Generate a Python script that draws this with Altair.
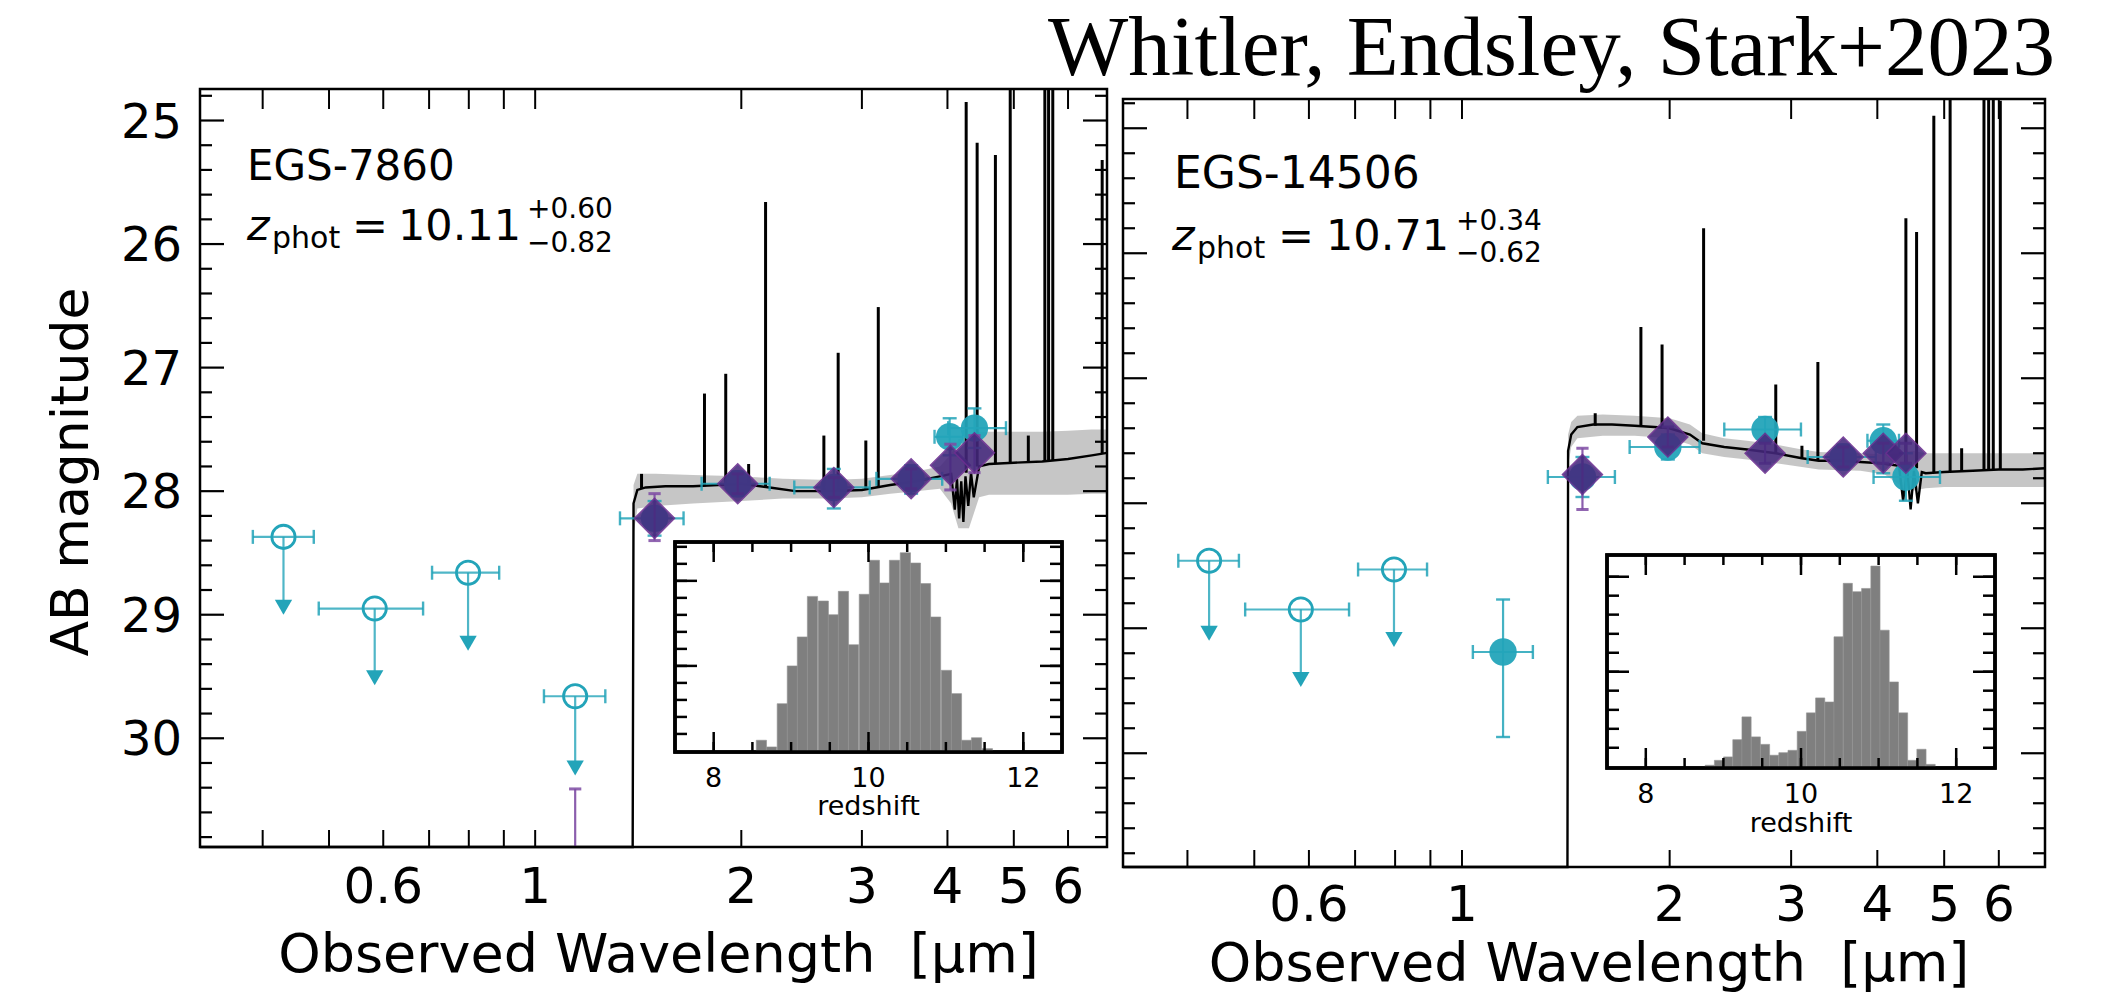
import altair as alt
import pandas as pd

FONT = "DejaVu Sans"
SERIF = "Liberation Serif"
CYAN = "#23a4b9"
PURPLE = "#45287d"
PURPLE_EDGE = "#6b2e90"
PURPLE_BAR = "#7e4ca4"
BAND = "#c0c0c0"
HIST = "#7f7f7f"
W, H = 2111, 994

TITLE = "Whitler, Endsley, Stark+2023"
X_TITLE = "Observed Wavelength\u00a0\u00a0[\u03bcm]"
Y_TITLE = "AB magnitude"

# axis tick values / labels
X_TICKS = [0.4, 0.5, 0.6, 0.7, 0.8, 0.9, 1, 2, 3, 4, 5, 6]
X_LABEL_VALUES = [0.6, 1, 2, 3, 4, 5, 6]
X_LABELS = ["0.6", "1", "2", "3", "4", "5", "6"]
Y_MAJOR = [25, 26, 27, 28, 29, 30]
Y_LABELS = ["25", "26", "27", "28", "29", "30"]
Y_MINOR = [round(24.8 + 0.2 * k, 1) for k in range(31) if round(24.8 + 0.2 * k, 1) % 1 != 0]
Z_TICKS = [8, 8.5, 9, 9.5, 10, 10.5, 11, 11.5, 12]
Z_MAJOR = [8, 10, 12]
Z_LABELS = ["8", "10", "12"]

# ---------------- EGS-7860 (left) ----------------
L_ul_lam = [0.429, 0.583, 0.798, 1.144]
L_ul_mag = [28.37, 28.95, 28.66, 29.66]
L_ul_lo = [0.387, 0.483, 0.707, 1.03]
L_ul_hi = [0.475, 0.686, 0.886, 1.266]
L_ul_arrow = [28.94, 29.51, 29.23, 30.24]

L_det_lam = [1.494, 1.976, 2.73, 3.54, 4.03, 4.38]
L_det_mag = [28.22, 27.94, 27.97, 27.90, 27.56, 27.49]
L_det_lo = [1.33, 1.75, 2.39, 3.15, 3.83, 4.01]
L_det_hi = [1.647, 2.20, 3.08, 3.93, 4.22, 4.87]
L_det_ylo = [28.08, 27.84, 27.82, 27.79, 27.41, 27.33]
L_det_yhi = [28.36, 28.04, 28.14, 28.02, 27.71, 27.65]

L_dia_lam = [1.494, 1.976, 2.73, 3.54, 4.04, 4.38]
L_dia_mag = [28.22, 27.94, 27.97, 27.90, 27.79, 27.69]
L_dia_ylo = [28.02, 27.86, 27.89, 27.82, 27.62, 27.55]
L_dia_yhi = [28.40, 28.02, 28.05, 27.98, 27.99, 27.85]

L_pbar_lam = [1.144]
L_pbar_top = [30.41]
L_pbar_bot = [31.5]

L_spec_lam = [0.324, 1.388, 1.392, 1.41, 1.45, 1.55, 1.7, 1.85, 2.0, 2.2, 2.4, 2.7, 3.0, 3.3, 3.6, 3.9,
              4.05, 4.1, 4.13, 4.16, 4.19, 4.22, 4.25, 4.29, 4.33, 4.37, 4.45, 4.6, 5.0, 5.5, 6.0, 6.5, 6.84]
L_spec_mag = [31.5, 31.5, 28.1, 27.99, 27.97, 27.96, 27.96, 27.95, 27.94, 27.97, 28.0, 28.0, 27.99, 27.95, 27.92, 27.88,
              27.86, 28.15, 27.9, 28.22, 27.92, 28.25, 27.88, 28.12, 27.85, 28.05, 27.8, 27.78, 27.77, 27.76, 27.74, 27.71, 27.69]

L_band_lam = [1.392, 1.41, 1.5, 1.7, 2.0, 2.3, 2.7, 3.0, 3.3, 3.6, 3.9, 4.05, 4.15, 4.3, 4.45, 4.6, 5.0, 5.5, 6.0, 6.5, 6.84]
L_band_lo = [27.95, 27.86, 27.86, 27.87, 27.88, 27.9, 27.91, 27.9, 27.87, 27.84, 27.8, 27.7, 27.58, 27.55, 27.52, 27.52,
             27.52, 27.52, 27.51, 27.5, 27.5]
L_band_hi = [28.35, 28.14, 28.12, 28.1, 28.08, 28.06, 28.06, 28.05, 28.02, 28.0, 27.98, 28.1, 28.3, 28.3, 28.05, 28.03,
             28.03, 28.03, 28.03, 28.02, 28.02]

L_line_lam = [1.43, 1.767, 1.898, 2.05, 2.17, 2.64, 2.77, 3.04, 3.17, 4.26, 4.42, 4.70, 4.94, 5.25, 5.55, 5.62, 5.70, 6.73]
L_line_base = [27.98, 27.96, 27.95, 27.94, 27.97, 28.0, 28.0, 27.99, 27.96, 27.85, 27.8, 27.78, 27.77, 27.77, 27.76,
               27.76, 27.75, 27.70]
L_line_top = [27.86, 27.21, 27.05, 27.78, 25.66, 27.55, 26.88, 27.59, 26.51, 24.85, 25.18, 25.28, 24.5, 27.55, 24.5,
              24.5, 24.5, 25.32]

L_hist_start = [8.55, 8.68, 8.82, 8.95, 9.08, 9.21, 9.35, 9.48, 9.61, 9.74, 9.88, 10.01, 10.14, 10.27, 10.41,
                10.54, 10.67, 10.80, 10.94, 11.07, 11.20, 11.33, 11.47]
L_hist_height = [5.6, 2.4, 23.0, 41.0, 54.8, 74.1, 71.9, 65.4, 76.5, 51.1, 75.1, 91.3, 80.5, 91.3, 94.9,
                 90.0, 80.2, 64.3, 38.9, 27.8, 5.6, 6.8, 1.6]
L_hist_width = 0.1325
L_hist_yticks = [8.6, 16.7, 24.8, 32.9, 41.0, 49.1, 57.2, 65.3, 73.4, 81.5, 89.6, 97.7]
L_hist_ymajor = [41.0, 81.5]

# ---------------- EGS-14506 (right) ----------------
R_ul_lam = [0.430, 0.584, 0.797]
R_ul_mag = [28.46, 28.85, 28.53]
R_ul_lo = [0.388, 0.485, 0.707]
R_ul_hi = [0.475, 0.686, 0.890]
R_ul_arrow = [29.04, 29.41, 29.09]

R_det_lam = [1.147, 1.495, 1.988, 2.75, 3.57, 4.08, 4.40]
R_det_mag = [29.19, 27.79, 27.55, 27.41, 27.63, 27.50, 27.79]
R_det_lo = [1.037, 1.332, 1.75, 2.40, 3.17, 3.87, 3.95]
R_det_hi = [1.267, 1.666, 2.21, 3.10, 3.98, 4.30, 4.93]
R_det_ylo = [28.77, 27.63, 27.45, 27.31, 27.53, 27.37, 27.60]
R_det_yhi = [29.87, 27.95, 27.65, 27.51, 27.73, 27.76, 27.98]

R_dia_lam = [1.495, 1.988, 2.75, 3.57, 4.08, 4.40]
R_dia_mag = [27.77, 27.47, 27.60, 27.63, 27.60, 27.60]
R_dia_ylo = [27.56, 27.39, 27.52, 27.55, 27.52, 27.52]
R_dia_yhi = [28.05, 27.55, 27.68, 27.71, 27.68, 27.68]

R_spec_lam = [0.3226, 1.422, 1.425, 1.44, 1.47, 1.55, 1.65, 1.78, 1.9, 2.0, 2.14, 2.23, 2.4, 2.59, 2.85, 3.11, 3.29,
              3.55, 3.78, 4.05, 4.3, 4.36, 4.42, 4.47, 4.52, 4.58, 4.64, 4.7, 5.0, 5.5, 6.0, 6.5, 7.0]
R_spec_mag = [31.5, 31.5, 27.58, 27.45, 27.39, 27.37, 27.37, 27.38, 27.39, 27.4, 27.45, 27.52, 27.55, 27.57, 27.6,
              27.64, 27.66, 27.66, 27.67, 27.68, 27.7, 27.98, 27.72, 28.05, 27.74, 28.0, 27.75, 27.76, 27.75, 27.74,
              27.73, 27.73, 27.72]

R_band_lam = [1.425, 1.44, 1.47, 1.6, 1.78, 2.0, 2.14, 2.23, 2.4, 2.59, 2.85, 3.11, 3.29, 3.78, 4.1, 4.3, 4.5, 4.7,
              5.0, 5.5, 6.0, 6.5, 7.0]
R_band_lo = [27.45, 27.35, 27.3, 27.29, 27.3, 27.32, 27.37, 27.44, 27.48, 27.5, 27.53, 27.57, 27.59, 27.6, 27.61,
             27.6, 27.58, 27.6, 27.6, 27.6, 27.6, 27.6, 27.6]
R_band_hi = [27.7, 27.55, 27.48, 27.46, 27.46, 27.48, 27.53, 27.6, 27.63, 27.65, 27.68, 27.71, 27.73, 27.74, 27.77,
             27.85, 27.9, 27.88, 27.87, 27.87, 27.87, 27.87, 27.87]

R_line_lam = [1.56, 1.817, 1.95, 2.24, 2.85, 3.11, 3.28, 4.40, 4.56, 4.83, 5.10, 5.30, 5.71, 5.80, 5.89, 6.03]
R_line_base = [27.38, 27.38, 27.4, 27.5, 27.6, 27.64, 27.66, 27.7, 27.72, 27.75, 27.75, 27.74, 27.73, 27.73, 27.73, 27.73]
R_line_top = [27.28, 26.59, 26.73, 25.80, 27.05, 27.54, 26.87, 25.72, 25.83, 24.9, 24.5, 27.56, 24.5, 24.5, 24.5, 24.78]

R_hist_start = [8.765, 8.884, 9.002, 9.121, 9.239, 9.358, 9.477, 9.595, 9.714, 9.832, 9.951, 10.07, 10.188,
                10.307, 10.425, 10.544, 10.663, 10.781, 10.9, 11.018, 11.137, 11.256, 11.374, 11.493, 11.611]
R_hist_height = [1.3, 3.6, 5.2, 13.3, 24.0, 14.6, 11.1, 6.0, 7.2, 8.3, 17.2, 25.9, 32.9, 31.0, 61.6, 86.7, 82.8,
                 84.3, 94.8, 64.7, 40.4, 25.9, 3.6, 8.8, 1.7]
R_hist_width = 0.1186
R_hist_yticks = [9.5, 18.4, 27.3, 36.3, 45.2, 54.1, 63.0, 72.0, 80.9, 89.8]
R_hist_ymajor = [45.2, 89.8]

# ---------------- layout (page pixels) ----------------
LP = dict(x0=200, x1=1107, y0=89, y1=847)
RP = dict(x0=1123, x1=2045, y0=99, y1=867)
LI = dict(x0=675, x1=1062, y0=542, y1=752)
RI = dict(x0=1607, x1=1995, y0=555, y1=768)

XS_L = alt.Scale(type="log", domain=[0.324, 6.84], range=[LP["x0"], LP["x1"]], clamp=True, nice=False)
YS_L = alt.Scale(domain=[24.745, 30.88], range=[LP["y0"], LP["y1"]], clamp=True, nice=False, zero=False)
XS_R = alt.Scale(type="log", domain=[0.3226, 7.0], range=[RP["x0"], RP["x1"]], clamp=True, nice=False)
YS_R = alt.Scale(domain=[24.766, 30.91], range=[RP["y0"], RP["y1"]], clamp=True, nice=False, zero=False)
XS_LI = alt.Scale(domain=[7.5, 12.5], range=[LI["x0"], LI["x1"]], nice=False, zero=False)
YS_LI = alt.Scale(domain=[0, 100], range=[LI["y1"], LI["y0"]], nice=False)
XS_RI = alt.Scale(domain=[7.5, 12.5], range=[RI["x0"], RI["x1"]], nice=False, zero=False)
YS_RI = alt.Scale(domain=[0, 100], range=[RI["y1"], RI["y0"]], nice=False)

VCAP = "M0,-1L0,1"
HCAP = "M-1,0L1,0"
ONE = pd.DataFrame({"k": [0]})


def Xf(scale):
    return lambda f: alt.X(f, type="quantitative", scale=scale, axis=None)


def Yf(scale):
    return lambda f: alt.Y(f, type="quantitative", scale=scale, axis=None)


def caps(df, X, Y, xf, yf, shape, color, size=196, sw=2.4, op=0.85):
    return alt.Chart(df).mark_point(shape=shape, size=size, filled=False, color=color,
                                    strokeWidth=sw, opacity=op).encode(x=X(xf), y=Y(yf))


def main_panel(box, XS, YS, d, ylabels, xlab_base, xtitle_base):
    X, Y = Xf(XS), Yf(YS)
    band = pd.DataFrame({"lam": d["band_lam"], "lo": d["band_lo"], "hi": d["band_hi"]})
    spec = pd.DataFrame({"lam": d["spec_lam"], "mag": d["spec_mag"]})
    lines = pd.DataFrame({"lam": d["line_lam"], "base": d["line_base"], "top": d["line_top"]})
    ul = pd.DataFrame({"lam": d["ul_lam"], "mag": d["ul_mag"], "lo": d["ul_lo"], "hi": d["ul_hi"],
                       "arrow": d["ul_arrow"]})
    det = pd.DataFrame({"lam": d["det_lam"], "mag": d["det_mag"], "lo": d["det_lo"], "hi": d["det_hi"],
                        "ylo": d["det_ylo"], "yhi": d["det_yhi"]})
    dia = pd.DataFrame({"lam": d["dia_lam"], "mag": d["dia_mag"], "ylo": d["dia_ylo"], "yhi": d["dia_yhi"]})

    L = [
        alt.Chart(band).mark_area(color=BAND, opacity=0.9).encode(x=X("lam"), y=Y("lo"), y2=alt.Y2("hi")),
        alt.Chart(spec).mark_line(color="black", strokeWidth=2.4).encode(x=X("lam"), y=Y("mag")),
        alt.Chart(lines).mark_rule(color="black", strokeWidth=3).encode(x=X("lam"), y=Y("base"), y2=alt.Y2("top")),
    ]
    if "pbar_lam" in d:
        pb = pd.DataFrame({"lam": d["pbar_lam"], "top": d["pbar_top"], "bot": d["pbar_bot"]})
        L += [
            alt.Chart(pb).mark_rule(color=PURPLE_BAR, strokeWidth=2.2, opacity=0.9).encode(
                x=X("lam"), y=Y("top"), y2=alt.Y2("bot")),
            caps(pb, X, Y, "lam", "top", HCAP, PURPLE_BAR, size=150, sw=3),
        ]
    # upper limits (open circles with arrows)
    L += [
        alt.Chart(ul).mark_rule(color=CYAN, strokeWidth=2.2, opacity=0.8).encode(
            x=X("lo"), x2=alt.X2("hi"), y=Y("mag")),
        caps(ul, X, Y, "lo", "mag", VCAP, CYAN),
        caps(ul, X, Y, "hi", "mag", VCAP, CYAN),
        alt.Chart(ul).mark_rule(color=CYAN, strokeWidth=2.2, opacity=0.8).encode(
            x=X("lam"), y=Y("mag"), y2=alt.Y2("arrow")),
        alt.Chart(ul).mark_point(shape="triangle-down", size=300, filled=True, color=CYAN, opacity=1).encode(
            x=X("lam"), y=Y("arrow")),
        alt.Chart(ul).mark_point(shape="circle", size=540, filled=False, color=CYAN, strokeWidth=2.8,
                                 opacity=1).encode(x=X("lam"), y=Y("mag")),
    ]
    # detections (filled cyan)
    L += [
        alt.Chart(det).mark_rule(color=CYAN, strokeWidth=2.2, opacity=0.85).encode(
            x=X("lo"), x2=alt.X2("hi"), y=Y("mag")),
        caps(det, X, Y, "lo", "mag", VCAP, CYAN),
        caps(det, X, Y, "hi", "mag", VCAP, CYAN),
        alt.Chart(det).mark_rule(color=CYAN, strokeWidth=2.2, opacity=0.85).encode(
            x=X("lam"), y=Y("ylo"), y2=alt.Y2("yhi")),
        caps(det, X, Y, "lam", "ylo", HCAP, CYAN),
        caps(det, X, Y, "lam", "yhi", HCAP, CYAN),
        alt.Chart(det).mark_point(shape="circle", size=750, filled=True, color=CYAN, opacity=0.95).encode(
            x=X("lam"), y=Y("mag")),
    ]
    # purple diamonds
    L += [
        alt.Chart(dia).mark_rule(color=PURPLE_BAR, strokeWidth=2.2, opacity=0.9).encode(
            x=X("lam"), y=Y("ylo"), y2=alt.Y2("yhi")),
        caps(dia, X, Y, "lam", "ylo", HCAP, PURPLE_BAR, size=150, sw=3),
        caps(dia, X, Y, "lam", "yhi", HCAP, PURPLE_BAR, size=150, sw=3),
        alt.Chart(dia).mark_point(shape="diamond", size=1600, filled=True, fill=PURPLE, stroke=PURPLE_EDGE,
                                  strokeWidth=1.5, opacity=0.88).encode(x=X("lam"), y=Y("mag")),
    ]
    # ticks and frame
    xt = pd.DataFrame({"v": X_TICKS})
    ymaj = pd.DataFrame({"v": Y_MAJOR})
    ymin = pd.DataFrame({"v": Y_MINOR})
    L += [
        alt.Chart(xt).mark_rule(color="black", strokeWidth=2).encode(
            x=X("v"), y=alt.value(box["y1"]), y2=alt.value(box["y1"] - 17)),
        alt.Chart(xt).mark_rule(color="black", strokeWidth=2).encode(
            x=X("v"), y=alt.value(box["y0"]), y2=alt.value(box["y0"] + 20)),
    ]
    for df, ln in ((ymaj, 24), (ymin, 12)):
        L += [
            alt.Chart(df).mark_rule(color="black", strokeWidth=2.2).encode(
                y=Y("v"), x=alt.value(box["x0"]), x2=alt.value(box["x0"] + ln)),
            alt.Chart(df).mark_rule(color="black", strokeWidth=2.2).encode(
                y=Y("v"), x=alt.value(box["x1"]), x2=alt.value(box["x1"] - ln)),
        ]
    L.append(alt.Chart(ONE).mark_rect(filled=False, color="black", strokeWidth=2.5).encode(
        x=alt.value(box["x0"]), x2=alt.value(box["x1"]), y=alt.value(box["y0"]), y2=alt.value(box["y1"])))
    # labels
    xl = pd.DataFrame({"v": X_LABEL_VALUES, "t": X_LABELS})
    L.append(alt.Chart(xl).mark_text(font=FONT, fontSize=50, align="center", baseline="alphabetic",
                                     color="black").encode(x=X("v"), y=alt.value(xlab_base), text="t:N"))
    if ylabels:
        yl = pd.DataFrame({"v": Y_MAJOR, "t": Y_LABELS})
        L.append(alt.Chart(yl).mark_text(font=FONT, fontSize=48, align="right", baseline="alphabetic", dy=17,
                                         color="black").encode(x=alt.value(box["x0"] - 18), y=Y("v"), text="t:N"))
    xtitle = pd.DataFrame({"t": [X_TITLE]})
    L.append(alt.Chart(xtitle).mark_text(font=FONT, fontSize=54, align="center", baseline="alphabetic",
                                         color="black").encode(
        x=alt.value((box["x0"] + box["x1"]) / 2 + 5), y=alt.value(xtitle_base), text="t:N"))
    return alt.layer(*L)


def inset(box, XS, YS, starts, width, heights, yticks, ymajor, lab_base, red_base):
    X, Y = Xf(XS), Yf(YS)
    hist = pd.DataFrame({"start": starts, "h": heights})
    hist["end"] = hist["start"] + width
    hist["zero"] = 0.0
    L = [
        alt.Chart(ONE).mark_rect(fill="white", stroke="black", strokeWidth=3.5).encode(
            x=alt.value(box["x0"]), x2=alt.value(box["x1"]), y=alt.value(box["y0"]), y2=alt.value(box["y1"])),
        alt.Chart(hist).mark_rect(color=HIST, stroke="#949494", strokeWidth=0.6).encode(
            x=X("start"), x2=alt.X2("end"), y=Y("zero"), y2=alt.Y2("h")),
    ]
    zt = pd.DataFrame({"v": Z_TICKS})
    zm = pd.DataFrame({"v": Z_MAJOR})
    for df, ln in ((zt, 10), (zm, 20)):
        L += [
            alt.Chart(df).mark_rule(color="black", strokeWidth=2.5).encode(
                x=X("v"), y=alt.value(box["y1"]), y2=alt.value(box["y1"] - ln)),
            alt.Chart(df).mark_rule(color="black", strokeWidth=2.5).encode(
                x=X("v"), y=alt.value(box["y0"]), y2=alt.value(box["y0"] + ln)),
        ]
    yt = pd.DataFrame({"v": yticks})
    ym = pd.DataFrame({"v": ymajor})
    for df, ln in ((yt, 12), (ym, 22)):
        L += [
            alt.Chart(df).mark_rule(color="black", strokeWidth=2.5).encode(
                y=Y("v"), x=alt.value(box["x0"]), x2=alt.value(box["x0"] + ln)),
            alt.Chart(df).mark_rule(color="black", strokeWidth=2.5).encode(
                y=Y("v"), x=alt.value(box["x1"]), x2=alt.value(box["x1"] - ln)),
        ]
    L.append(alt.Chart(ONE).mark_rect(filled=False, color="black", strokeWidth=3.5).encode(
        x=alt.value(box["x0"]), x2=alt.value(box["x1"]), y=alt.value(box["y0"]), y2=alt.value(box["y1"])))
    zl = pd.DataFrame({"v": Z_MAJOR, "t": Z_LABELS})
    L.append(alt.Chart(zl).mark_text(font=FONT, fontSize=27, align="center", baseline="alphabetic",
                                     color="black").encode(x=X("v"), y=alt.value(lab_base), text="t:N"))
    rl = pd.DataFrame({"v": [10], "t": ["redshift"]})
    L.append(alt.Chart(rl).mark_text(font=FONT, fontSize=27, align="center", baseline="alphabetic",
                                     color="black").encode(x=X("v"), y=alt.value(red_base), text="t:N"))
    return alt.layer(*L)


def label(text, x, y, size, font=FONT, align="left", style="normal", angle=0, baseline="alphabetic",
          color="black"):
    df = pd.DataFrame({"t": [text]})
    return alt.Chart(df).mark_text(font=font, fontSize=size, align=align, baseline=baseline, fontStyle=style,
                                   angle=angle, color=color).encode(x=alt.value(x), y=alt.value(y), text="t:N")


left_data = dict(ul_lam=L_ul_lam, ul_mag=L_ul_mag, ul_lo=L_ul_lo, ul_hi=L_ul_hi, ul_arrow=L_ul_arrow,
                 det_lam=L_det_lam, det_mag=L_det_mag, det_lo=L_det_lo, det_hi=L_det_hi,
                 det_ylo=L_det_ylo, det_yhi=L_det_yhi,
                 dia_lam=L_dia_lam, dia_mag=L_dia_mag, dia_ylo=L_dia_ylo, dia_yhi=L_dia_yhi,
                 pbar_lam=L_pbar_lam, pbar_top=L_pbar_top, pbar_bot=L_pbar_bot,
                 spec_lam=L_spec_lam, spec_mag=L_spec_mag,
                 band_lam=L_band_lam, band_lo=L_band_lo, band_hi=L_band_hi,
                 line_lam=L_line_lam, line_base=L_line_base, line_top=L_line_top)
right_data = dict(ul_lam=R_ul_lam, ul_mag=R_ul_mag, ul_lo=R_ul_lo, ul_hi=R_ul_hi, ul_arrow=R_ul_arrow,
                  det_lam=R_det_lam, det_mag=R_det_mag, det_lo=R_det_lo, det_hi=R_det_hi,
                  det_ylo=R_det_ylo, det_yhi=R_det_yhi,
                  dia_lam=R_dia_lam, dia_mag=R_dia_mag, dia_ylo=R_dia_ylo, dia_yhi=R_dia_yhi,
                  spec_lam=R_spec_lam, spec_mag=R_spec_mag,
                  band_lam=R_band_lam, band_lo=R_band_lo, band_hi=R_band_hi,
                  line_lam=R_line_lam, line_base=R_line_base, line_top=R_line_top)

left_main = main_panel(LP, XS_L, YS_L, left_data, True, 903, 972)
right_main = main_panel(RP, XS_R, YS_R, right_data, False, 921, 981)
left_inset = inset(LI, XS_LI, YS_LI, L_hist_start, L_hist_width, L_hist_height, L_hist_yticks, L_hist_ymajor,
                   787, 815)
right_inset = inset(RI, XS_RI, YS_RI, R_hist_start, R_hist_width, R_hist_height, R_hist_yticks, R_hist_ymajor,
                    803, 832)

texts = [
    label(TITLE, 2055, 75, 85, font=SERIF, align="right"),
    label(Y_TITLE, 72, 472, 52, align="center", angle=270, baseline="middle"),
    # left annotation
    label("EGS-7860", 247, 180, 42),
    label("z", 247, 240, 43, style="italic"),
    label("phot", 272, 248, 30),
    label("=", 352, 240, 43),
    label("10.11", 398, 240, 43),
    label("+0.60", 527, 218, 28),
    label("\u22120.82", 527, 252, 28),
    # right annotation
    label("EGS-14506", 1174, 188, 44),
    label("z", 1172, 250, 43, style="italic"),
    label("phot", 1197, 258, 30),
    label("=", 1278, 250, 43),
    label("10.71", 1326, 250, 43),
    label("+0.34", 1456, 230, 28),
    label("\u22120.62", 1456, 262, 28),
]

chart = alt.layer(left_main, left_inset, right_main, right_inset, *texts).resolve_scale(
    x="independent", y="independent"
).properties(
    width=W, height=H, padding=0, autosize=alt.AutoSizeParams(type="none"), background="white"
).configure_view(stroke=None)

chart.save("out.html", embed_options={"renderer": "svg", "actions": False})
